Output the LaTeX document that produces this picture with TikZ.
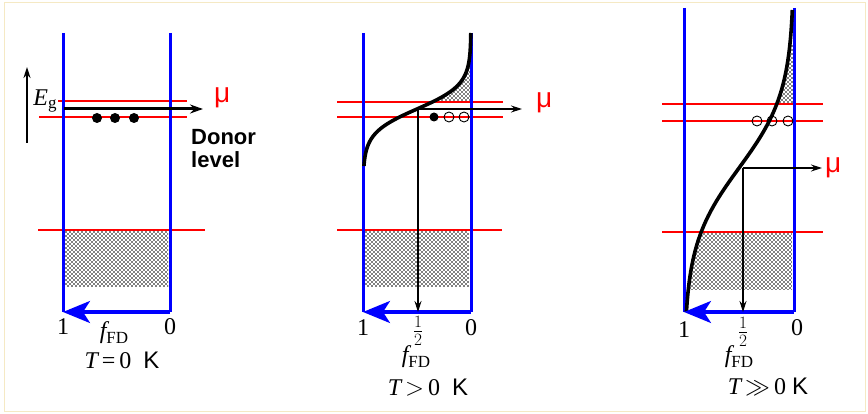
\documentclass[tikz,border=0pt]{standalone}
\usepackage{fontspec}
\setmainfont{Liberation Serif}
\newfontfamily\sansfnt{Liberation Sans}
\usepackage{xcolor}
\usetikzlibrary{arrows.meta}
\usetikzlibrary{patterns}
\definecolor{framecol}{RGB}{245,233,196}
\pgfdeclarepatternformonly{stipple}{\pgfqpoint{-1pt}{-1pt}}{\pgfqpoint{4pt}{4pt}}{\pgfqpoint{4pt}{4pt}}{%
  \pgfpathcircle{\pgfqpoint{0pt}{0pt}}{0.8pt}%
  \pgfpathcircle{\pgfqpoint{2pt}{2pt}}{0.8pt}%
  \pgfusepath{fill}}
\newcommand{\fFD}{{\itshape f}\raisebox{-5pt}{\fontsize{17}{17}\selectfont FD}}

\begin{document}
\begin{tikzpicture}[x=1pt, y=-1pt,
  every node/.style={font=\fontsize{24}{26}\selectfont, inner sep=0pt},
  wall/.style={draw=blue, line width=3pt},
  level/.style={draw=red, line width=2.4pt},
  faxis/.style={draw=blue, line width=3.2pt, -{Stealth[length=27pt, width=22pt, inset=7pt]}},
  thin/.style={line width=1.2pt, -{Stealth[length=11pt, width=7pt]}},
  thick/.style={line width=3pt, -{Stealth[length=13pt, width=9pt]}},
  fermi/.style={line width=3.6pt},
  stip/.style={pattern=stipple, pattern color=black},
  mulabel/.style={text=red, font=\sansfnt\fontsize{28}{30}\selectfont, anchor=west},
  elec/.style={circle, fill=black, minimum size=10pt},
  hole/.style={circle, draw, line width=0.9pt, minimum size=10pt}
]
\useasboundingbox (0,0) rectangle (868,414);
\draw[framecol, line width=1pt] (4,3) rectangle (865,411);

% T = 0 K
\fill[stip] (65,232) rectangle (168,287);
\draw[level] (58,101) -- (187,101);
\draw[level] (39,117) -- (187,117);
\draw[level] (38,230) -- (205,230);
\draw[wall] (63,33) -- (63,312);
\draw[wall] (170,33) -- (170,312);
\coordinate (a0) at (170,312);
\coordinate (a1) at (63,312);
\draw[faxis] (a0) -- (a1);
\coordinate (eg0) at (27,143);
\coordinate (eg1) at (27,67);
\draw[thin, line width=1.8pt] (eg0) -- (eg1);
\node (eg) at (45,101) {\itshape E\raisebox{-3pt}{\upshape\fontsize{17}{17}\selectfont g}};
\coordinate (m0) at (64,109);
\coordinate (m1) at (203,109);
\draw[thick] (m0) -- (m1);
\node[mulabel] (mu1) at (214,98) {μ};
\node[elec] (d1) at (97,118) {};
\node[elec] (d2) at (115,118) {};
\node[elec] (d3) at (134,118) {};
\node[font=\sansfnt\bfseries\fontsize{22}{23}\selectfont, align=left, anchor=north west] (donor) at (191,129) {Donor\\level};
\node (one1) at (63,327) {1};
\node (zero1) at (170,327) {0};
\node (f1) at (114,333) {\fFD};
\node (t1) at (122,360) {{\itshape T}\,=\,0~~{\sansfnt K}};

% T > 0 K
\fill[stip] (365,232) rectangle (469,287);
\fill[stip] plot[domain=55:103, samples=30] ({471-108/(1+exp((109-\x)/12))}, \x) -- (471,103) -- (471,55) -- cycle;
\draw[level] (337,102) -- (503,102);
\draw[level] (337,117) -- (503,117);
\draw[level] (337,230) -- (502,230);
\draw[wall] (363,33) -- (363,312);
\draw[wall] (471,33) -- (471,312);
\draw[fermi] plot[domain=33:166, samples=90, smooth] ({471-108/(1+exp((109-\x)/12))}, \x);
\coordinate (b0) at (471,312);
\coordinate (b1) at (363,312);
\draw[faxis] (b0) -- (b1);
\coordinate (h2) at (418,109);
\coordinate (h2r) at (522,109);
\coordinate (h2d) at (418,312);
\draw[thin] (h2) -- (h2r);
\draw[thin] (h2) -- (h2d);
\node[mulabel] (mu2) at (536,103) {μ};
\node[elec, minimum size=9pt] (p1) at (434,117) {};
\node[hole] (p2) at (449,117) {};
\node[hole] (p3) at (464,117) {};
\node (one2) at (363,328) {1};
\node (half2) at (418,331) {$\frac{1}{2}$};
\node (zero2) at (471,328) {0};
\node (f2) at (416,357) {\fFD};
\node (t2) at (428,388) {{\itshape T}\,$>$\,0~~{\sansfnt K}};

% T >> 0 K
\fill[stip] plot[domain=232:290, samples=20] ({794-110/(1+exp((168-\x)/38))}, \x) -- (792,290) -- (792,232) -- cycle;
\fill[stip] plot[domain=45:104, samples=30] ({794-110/(1+exp((168-\x)/38))}, \x) -- (794,104) -- (794,45) -- cycle;
\draw[level] (662,104) -- (823,104);
\draw[level] (662,121) -- (823,121);
\draw[level] (662,232) -- (823,232);
\draw[wall] (684,8) -- (684,312);
\draw[wall] (794,8) -- (794,312);
\draw[fermi] plot[domain=10:312, samples=120, smooth] ({794-110/(1+exp((168-\x)/38))}, \x);
\coordinate (c0) at (794,312);
\coordinate (c1) at (684,312);
\draw[faxis] (c0) -- (c1);
\coordinate (h3) at (743,168);
\coordinate (h3r) at (822,168);
\coordinate (h3d) at (743,312);
\draw[thin] (h3) -- (h3r);
\draw[thin] (h3) -- (h3d);
\node[mulabel] (mu3) at (825,168) {μ};
\node[hole] (q1) at (757,121) {};
\node[hole] (q2) at (772,121) {};
\node[hole] (q3) at (788,121) {};
\node (one3) at (684,330) {1};
\node (half3) at (743,332) {$\frac{1}{2}$};
\node (zero3) at (797,328) {0};
\node (f3) at (739,357) {\fFD};
\node (t3) at (768,387) {{\itshape T}\,$\gg$\,0~{\sansfnt K}};
\end{tikzpicture}
\end{document}
